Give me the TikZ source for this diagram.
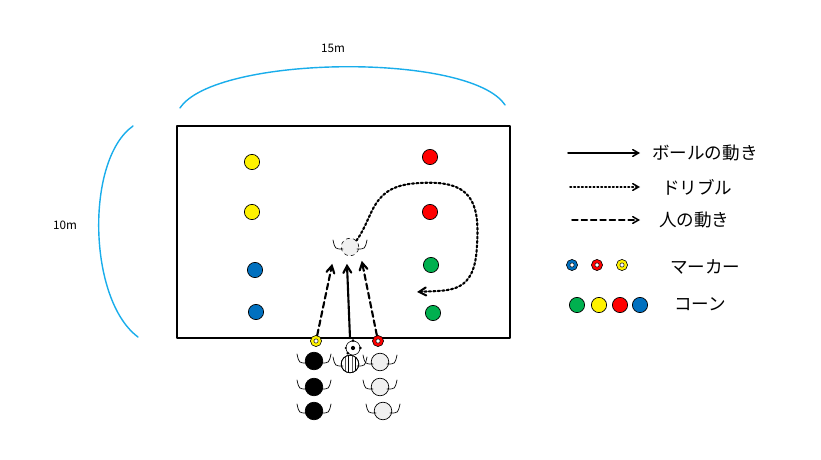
\documentclass[tikz,border=0pt]{standalone}
\usepackage{fontspec}
\setmainfont{Noto Sans CJK JP}
\usetikzlibrary{arrows,patterns}
\definecolor{skyblue}{rgb}{0.1,0.68,0.92}
\definecolor{conegreen}{rgb}{0,0.69,0.31}
\definecolor{coneblue}{rgb}{0,0.44,0.75}
\definecolor{ghostgray}{rgb}{0.94,0.94,0.94}
\tikzset{
  cone/.style={circle,draw=black,line width=0.6pt,minimum size=13pt,inner sep=0pt},
  marker/.style={circle,draw=black,line width=0.5pt,minimum size=9.5pt,inner sep=0pt,path picture={\fill[white] (path picture bounding box.center) circle (1.8pt);\draw[line width=0.4pt] (path picture bounding box.center) circle (1.8pt);}},
  head/.style={circle,draw=black,line width=0.6pt,minimum size=15pt,inner sep=0pt},
  move/.style={->,>=angle 60,line width=1.8pt,shorten >=-1pt},
  longdash/.style={dash pattern=on 5pt off 3pt},
  legtext/.style={anchor=west,font=\fontsize{15}{17}\selectfont}
}
\newcommand{\arms}[2]{%
  \draw[line width=0.6pt] (#1-17,#2-7) .. controls (#1-15,#2+2) .. (#1-7,#2+2);
  \draw[line width=0.6pt] (#1+17,#2-7) .. controls (#1+15,#2+2) .. (#1+7,#2+2);}
\begin{document}
\begin{tikzpicture}[line cap=round,line join=round,x=0.03cm,y=-0.03cm]
	\useasboundingbox (0,0) rectangle (821,460);
	% field
	\draw[line width=1.8pt] (177,126) rectangle (510,338);
	\coordinate (tl) at (180,108);
	\coordinate (tr) at (505,105);
	\draw[skyblue,line width=1.2pt] (tl) .. controls (215,55) and (470,52) .. (tr);
	\coordinate (lt) at (133,126);
	\coordinate (lb) at (138,337);
	\draw[skyblue,line width=1.2pt] (lt) .. controls (85,160) and (88,300) .. (lb);
	\node[font=\fontsize{10}{11}\selectfont] (w) at (333,48) {15m};
	\node[font=\fontsize{10}{11}\selectfont] (h) at (65,225) {10m};
	% cones
	\node[cone,fill=yellow] (y1) at (252,162) {};
	\node[cone,fill=yellow] (y2) at (252,212) {};
	\node[cone,fill=coneblue] (b1) at (255,270) {};
	\node[cone,fill=coneblue] (b2) at (256,312) {};
	\node[cone,fill=red] (r1) at (430,157) {};
	\node[cone,fill=red] (r2) at (430,212) {};
	\node[cone,fill=conegreen] (g1) at (431,265) {};
	\node[cone,fill=conegreen] (g2) at (433,313) {};
	% markers
	\node[marker,fill=yellow] (my) at (316,341) {};
	\node[marker,fill=red] (mr) at (378,341) {};
	% players
	\node[head,fill=ghostgray,dashed,line width=0.5pt] (ghost) at (350,247) {};
	\arms{350}{247}
	\foreach \n/\yy in {1/361,2/387,3/411} {
		\node[head,fill=black] (k\n) at (314,\yy) {};
		\arms{314}{\yy}
	}
	\node[head,fill=white,pattern=vertical lines] (s) at (350,364) {};
	\node[head] at (s) {};
	\arms{350}{364}
	\foreach \n/\xx/\yy in {1/380/362,2/380/387,3/383/411} {
		\node[head,fill=ghostgray] (w\n) at (\xx,\yy) {};
		\arms{\xx}{\yy}
	}
	\node[circle,draw=black,fill=white,line width=0.5pt,minimum size=12pt,inner sep=0pt] (ball) at (353,348) {};
	\fill (ball.center) circle (1.8pt);
	\fill (ball.north) circle (1.3pt) (ball.south west) circle (1.3pt) (ball.east) circle (1.3pt) (ball.west) circle (1pt);
	% movements
	\coordinate (e1) at (332,265);
	\coordinate (e2) at (347,265);
	\coordinate (e3) at (362,262);
	\coordinate (e4) at (417,292);
	\coordinate (p) at (350,338);
	\draw[move,longdash] (my) -- (e1);
	\draw[move] (p) -- (e2);
	\draw[move,longdash] (mr) -- (e3);
	\draw[->,>=angle 60,line width=1.8pt,dotted] (ghost.north east) .. controls (375,215) and (370,185) .. (420,183) .. controls (470,180) and (480,200) .. (477,245) .. controls (475,295) and (450,290) .. (e4);
	% legend
	\coordinate (a1) at (568,153); \coordinate (a2) at (640,153);
	\coordinate (d1) at (570,187); \coordinate (d2) at (640,187);
	\coordinate (c1) at (572,220); \coordinate (c2) at (640,220);
	\draw[->,>=angle 60,line width=1.3pt] (a1) -- (a2);
	\draw[->,>=angle 60,line width=1.3pt,dotted] (d1) -- (d2);
	\draw[->,>=angle 60,line width=1.3pt,longdash] (c1) -- (c2);
	\node[legtext] (t1) at (648,153) {ボールの動き};
	\node[legtext] (t2) at (658,187) {ドリブル};
	\node[legtext] (t3) at (655,220) {人の動き};
	\node[marker,fill=coneblue] (lm1) at (572,265) {};
	\node[marker,fill=red] (lm2) at (597,265) {};
	\node[marker,fill=yellow] (lm3) at (622,265) {};
	\node[legtext] (t4) at (666,267) {マーカー};
	\node[cone,fill=conegreen] (lc1) at (577,305) {};
	\node[cone,fill=yellow] (lc2) at (599,305) {};
	\node[cone,fill=red] (lc3) at (620,305) {};
	\node[cone,fill=coneblue] (lc4) at (640,305) {};
	\node[legtext] (t5) at (670,304) {コーン};
\end{tikzpicture}
\end{document}
